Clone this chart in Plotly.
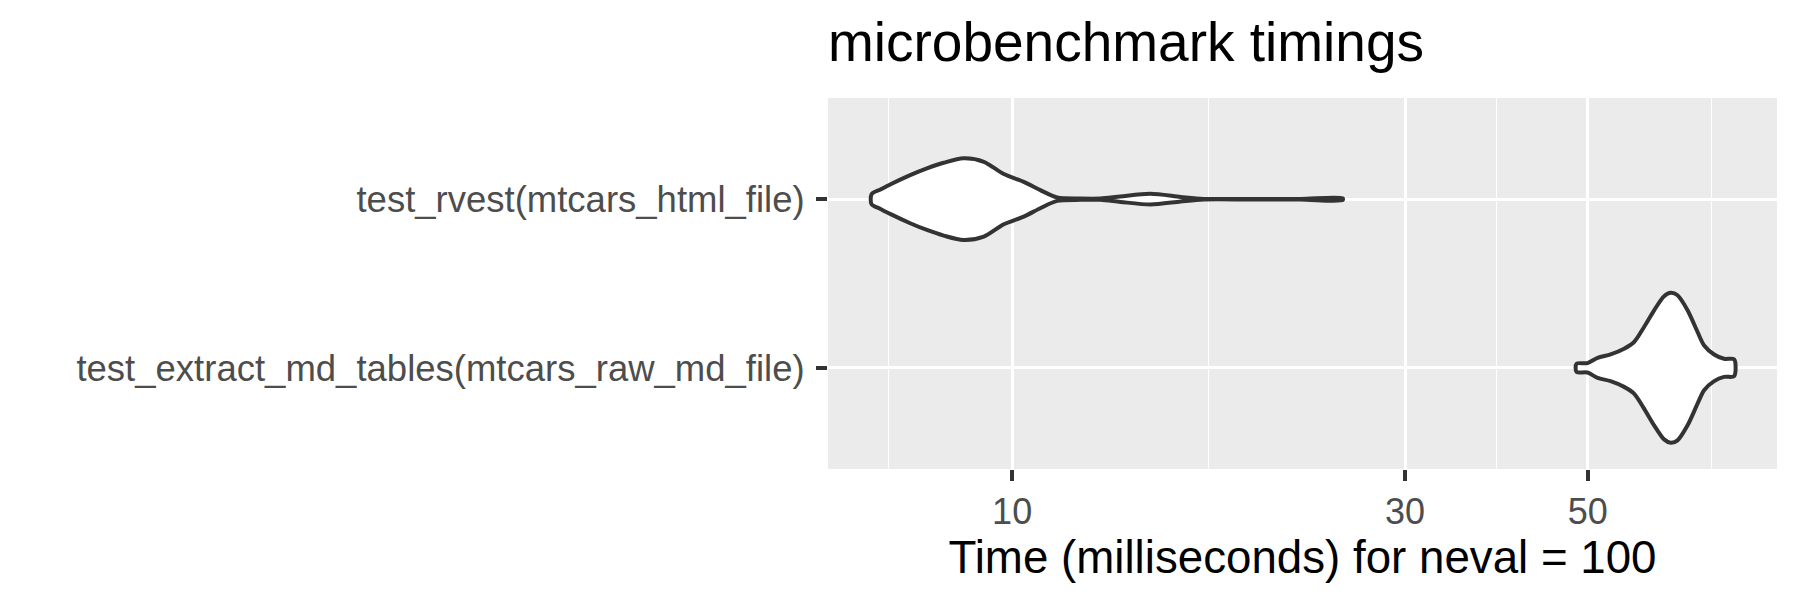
import plotly.graph_objects as go

# benchmark expressions, top to bottom as drawn
expressions = [
    "test_rvest(mtcars_html_file)",
    "test_extract_md_tables(mtcars_raw_md_file)",
]

# violin outlines: time (ms) and scaled density (max = 1)
rvest_ms = [6.75, 6.92, 7.11, 7.52, 7.88, 8.26, 8.73, 9.24, 9.77, 10.33, 10.82,
            11.34, 12.1, 12.8, 13.54, 14.72, 16.02, 17.08, 19.47, 22.4, 25.2]
rvest_density = [0.066, 0.128, 0.194, 0.317, 0.406, 0.48, 0.538, 0.493, 0.331, 0.229, 0.119,
                 0.022, 0.009, 0.009, 0.036, 0.07, 0.03, 0.004, 0.004, 0.004, 0.013]

md_ms = [48.45, 49.96, 51.4, 53.3, 55.35, 56.92, 58.53, 60.2, 61.9, 63.08, 64.27,
         66.1, 67.97, 69.23, 71.2, 73.2, 75.3]
md_density = [0.053, 0.062, 0.132, 0.176, 0.251, 0.34, 0.538, 0.758, 0.943, 0.988, 0.956,
              0.758, 0.472, 0.295, 0.176, 0.119, 0.11]

x_ticks = [10, 30, 50]
x_minor = [7.07, 17.32, 38.73, 70.71]

VIOLIN_WIDTH = 0.9
FONT = "Liberation Sans"
# the page body has an 8px default margin, so the figure is made that much smaller
W, H = 1792, 592


def violin_outline(ms, dens, pos):
    # upper edge left->right, then lower edge back right->left
    half = [d * VIOLIN_WIDTH / 2 for d in dens]
    xs = list(ms) + list(ms[::-1])
    ys = [pos - h for h in half] + [pos + h for h in half[::-1]]
    xs.append(xs[0])
    ys.append(ys[0])
    return xs, ys


fig = go.Figure()

for i, (ms, dens) in enumerate([(rvest_ms, rvest_density), (md_ms, md_density)]):
    xs, ys = violin_outline(ms, dens, i + 1)
    fig.add_trace(go.Scatter(
        x=xs, y=ys, mode="lines", fill="toself",
        fillcolor="white",
        line=dict(color="#333333", width=4, shape="spline", smoothing=0.8),
        hoverinfo="skip", showlegend=False,
    ))

fig.update_layout(
    width=W, height=H,
    paper_bgcolor="white",
    plot_bgcolor="#EBEBEB",
    margin=dict(l=820, r=23, t=90, b=131),
    font=dict(family=FONT),
    title=dict(
        text="microbenchmark timings",
        font=dict(size=55, color="black", family=FONT),
        x=0, xref="paper", xanchor="left",
        y=1 - 53 / H, yref="container", yanchor="bottom",
    ),
)

fig.update_xaxes(
    type="log",
    range=[0.7764, 1.9288],
    tickmode="array", tickvals=x_ticks, ticktext=[str(t) for t in x_ticks],
    showgrid=True, gridcolor="white", gridwidth=2.6,
    minor=dict(tickmode="array", tickvals=x_minor, showgrid=True,
               gridcolor="white", gridwidth=1.3, ticks=""),
    ticks="outside", ticklen=11, tickwidth=3.5, tickcolor="#333333",
    tickfont=dict(size=36, color="#4D4D4D"),
    showline=False, zeroline=False,
    title=dict(text="Time (milliseconds) for neval = 100",
               font=dict(size=45.7, color="black"), standoff=0),
)

fig.update_yaxes(
    range=[len(expressions) + 0.6, 0.4],
    tickmode="array", tickvals=list(range(1, len(expressions) + 1)), ticktext=expressions,
    showgrid=True, gridcolor="white", gridwidth=2.6,
    ticks="outside", ticklen=11, tickwidth=3.5, tickcolor="#333333",
    tickfont=dict(size=36.5, color="#4D4D4D"), ticklabelstandoff=4,
    showline=False, zeroline=False,
)

fig.write_html("out.html")
